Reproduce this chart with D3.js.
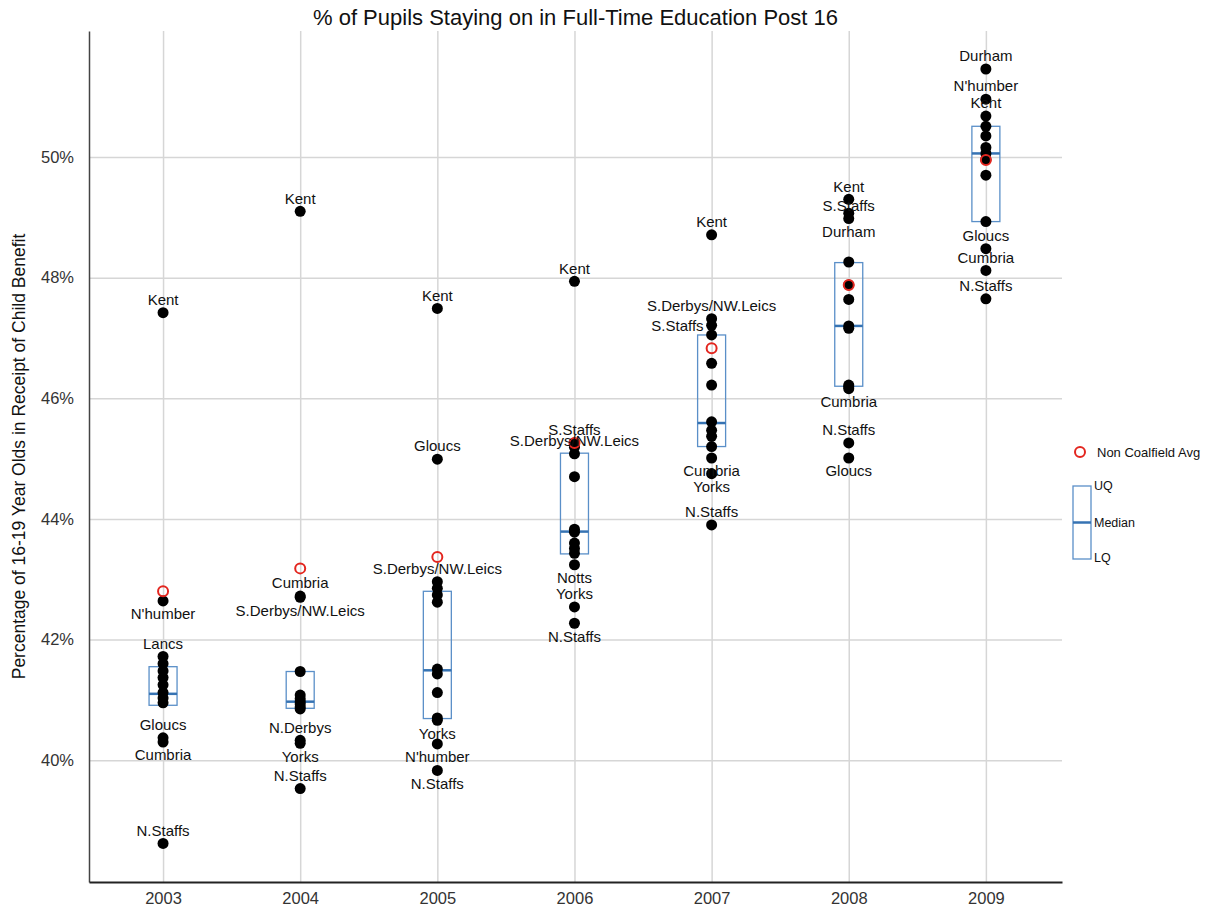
<!DOCTYPE html>
<html>
<head>
<meta charset="utf-8">
<script src="https://cdn.jsdelivr.net/npm/d3@7/dist/d3.min.js"></script>
<style>
  body { margin: 0; background: #fff; }
  text { font-family: "Liberation Sans", Arial, sans-serif; }
</style>
</head>
<body>
<div id="chart"></div>
<script>
// years on the x axis
const years = [2003, 2004, 2005, 2006, 2007, 2008, 2009];

// coalfield district values, one list per year
const districtValues = [
    [47.42, 42.64, 41.72, 41.60, 41.48, 41.37, 41.25, 41.12, 41.03, 40.95, 40.37, 40.30, 38.62],
    [49.10, 42.72, 42.70, 41.47, 41.08, 41.02, 40.97, 40.93, 40.88, 40.85, 40.33, 40.28, 39.53],
    [47.49, 44.99, 42.96, 42.85, 42.74, 42.62, 41.51, 41.43, 41.12, 40.70, 40.66, 40.27, 39.83],
    [47.94, 45.26, 45.19, 45.08, 44.70, 43.83, 43.78, 43.60, 43.51, 43.43, 43.24, 42.54, 42.27],
    [48.71, 47.32, 47.21, 47.05, 46.58, 46.22, 45.61, 45.47, 45.37, 45.20, 45.01, 44.75, 43.90],
    [49.30, 49.07, 48.98, 48.26, 47.88, 47.64, 47.20, 47.16, 46.22, 46.19, 46.16, 45.26, 45.01],
    [51.46, 50.96, 50.68, 50.51, 50.35, 50.16, 50.06, 49.96, 49.70, 48.93, 48.48, 48.12, 47.65]
];

// non coalfield average
const nonCoalfieldAvg = [42.80, 43.18, 43.37, 45.26, 46.83, 47.88, 49.95];

// box figures
const lowerQuartile = [40.91, 40.86, 40.69, 43.42, 45.20, 46.20, 48.93];
const medianValue   = [41.10, 40.97, 41.49, 43.79, 45.59, 47.20, 50.06];
const upperQuartile = [41.55, 41.47, 42.80, 45.09, 47.05, 48.25, 50.51];

const yTicks = [40, 42, 44, 46, 48, 50];

// named points
const pointLabels = [
    { year: 2003, value: 47.42, name: "Kent", side: "above" },
    { year: 2003, value: 42.64, name: "N'humber", side: "below" },
    { year: 2003, value: 41.72, name: "Lancs", side: "above" },
    { year: 2003, value: 40.37, name: "Gloucs", side: "above" },
    { year: 2003, value: 40.30, name: "Cumbria", side: "below" },
    { year: 2003, value: 38.62, name: "N.Staffs", side: "above" },
    { year: 2004, value: 49.10, name: "Kent", side: "above" },
    { year: 2004, value: 42.72, name: "Cumbria", side: "above" },
    { year: 2004, value: 42.70, name: "S.Derbys/NW.Leics", side: "below" },
    { year: 2004, value: 40.33, name: "N.Derbys", side: "above" },
    { year: 2004, value: 40.28, name: "Yorks", side: "below" },
    { year: 2004, value: 39.53, name: "N.Staffs", side: "above" },
    { year: 2005, value: 47.49, name: "Kent", side: "above" },
    { year: 2005, value: 44.99, name: "Gloucs", side: "above" },
    { year: 2005, value: 42.96, name: "S.Derbys/NW.Leics", side: "above" },
    { year: 2005, value: 40.66, name: "Yorks", side: "below" },
    { year: 2005, value: 40.27, name: "N'humber", side: "below" },
    { year: 2005, value: 39.83, name: "N.Staffs", side: "below" },
    { year: 2006, value: 47.94, name: "Kent", side: "above" },
    { year: 2006, value: 45.26, name: "S.Staffs", side: "above" },
    { year: 2006, value: 45.08, name: "S.Derbys/NW.Leics", side: "above" },
    { year: 2006, value: 43.24, name: "Notts", side: "below" },
    { year: 2006, value: 42.54, name: "Yorks", side: "above" },
    { year: 2006, value: 42.27, name: "N.Staffs", side: "below" },
    { year: 2007, value: 48.71, name: "Kent", side: "above" },
    { year: 2007, value: 47.32, name: "S.Derbys/NW.Leics", side: "above" },
    { year: 2007, value: 47.21, name: "S.Staffs", side: "left" },
    { year: 2007, value: 45.01, name: "Cumbria", side: "below" },
    { year: 2007, value: 44.75, name: "Yorks", side: "below" },
    { year: 2007, value: 43.90, name: "N.Staffs", side: "above" },
    { year: 2008, value: 49.30, name: "Kent", side: "above" },
    { year: 2008, value: 48.98, name: "S.Staffs", side: "above" },
    { year: 2008, value: 48.98, name: "Durham", side: "below" },
    { year: 2008, value: 46.16, name: "Cumbria", side: "below" },
    { year: 2008, value: 45.26, name: "N.Staffs", side: "above" },
    { year: 2008, value: 45.01, name: "Gloucs", side: "below" },
    { year: 2009, value: 51.46, name: "Durham", side: "above" },
    { year: 2009, value: 50.96, name: "N'humber", side: "above" },
    { year: 2009, value: 50.68, name: "Kent", side: "above" },
    { year: 2009, value: 48.48, name: "Gloucs", side: "above" },
    { year: 2009, value: 48.12, name: "Cumbria", side: "above" },
    { year: 2009, value: 47.65, name: "N.Staffs", side: "above" }
];

// layout
const W = 1229, H = 913;
const plot = { left: 89, right: 1062, top: 31, bottom: 882 };
const boxColor = "#5a8fc8";
const medianColor = "#3673b3";
const red = "#e3261f";

const svg = d3.select("#chart").append("svg")
    .attr("width", W)
    .attr("height", H);

const x = d3.scaleLinear()
    .domain([2002.46, 2009.555])
    .range([plot.left, plot.right]);

const y = d3.scaleLinear()
    .domain([37.98, 52.09])
    .range([plot.bottom, plot.top]);

// grid
svg.append("g")
    .attr("transform", `translate(${plot.left},0)`)
    .call(d3.axisLeft(y).tickValues(yTicks).tickSize(-(plot.right - plot.left)).tickFormat(""))
    .call(g => g.select(".domain").remove())
    .selectAll("line").attr("stroke", "#d6d6d6").attr("stroke-width", 1.5);

svg.append("g")
    .attr("transform", `translate(0,${plot.bottom})`)
    .call(d3.axisBottom(x).tickValues(years).tickSize(-(plot.bottom - plot.top)).tickFormat(""))
    .call(g => g.select(".domain").remove())
    .selectAll("line").attr("stroke", "#d6d6d6").attr("stroke-width", 1.5);

// axes
const yAxis = svg.append("g")
    .attr("transform", `translate(${plot.left},0)`)
    .call(d3.axisLeft(y).tickValues(yTicks).tickSize(0).tickPadding(15).tickFormat(d => d + "%"));
yAxis.select(".domain").attr("stroke", "#444").attr("stroke-width", 1.5);
yAxis.selectAll("text").attr("font-size", 16.5).attr("fill", "#333");

const xAxis = svg.append("g")
    .attr("transform", `translate(0,${plot.bottom})`)
    .call(d3.axisBottom(x).tickValues(years).tickSize(0).tickPadding(10).tickFormat(d3.format("d")));
xAxis.select(".domain").attr("stroke", "#222").attr("stroke-width", 2);
xAxis.selectAll("text").attr("font-size", 16.5).attr("fill", "#333");

// boxes
const boxHalf = 14;
const boxes = years.map((yr, i) => ({ year: yr, lq: lowerQuartile[i], med: medianValue[i], uq: upperQuartile[i] }));

svg.selectAll("rect.box")
    .data(boxes)
    .enter()
    .append("rect")
    .attr("class", "box")
    .attr("x", d => x(d.year) - boxHalf)
    .attr("y", d => y(d.uq))
    .attr("width", boxHalf * 2)
    .attr("height", d => y(d.lq) - y(d.uq))
    .attr("fill", "none")
    .attr("stroke", boxColor)
    .attr("stroke-width", 1.3);

svg.selectAll("line.median")
    .data(boxes)
    .enter()
    .append("line")
    .attr("class", "median")
    .attr("x1", d => x(d.year) - boxHalf)
    .attr("x2", d => x(d.year) + boxHalf)
    .attr("y1", d => y(d.med))
    .attr("y2", d => y(d.med))
    .attr("stroke", medianColor)
    .attr("stroke-width", 2.5);

// district points
const points = [];
years.forEach((yr, i) => districtValues[i].forEach(v => points.push({ year: yr, value: v })));

svg.selectAll("circle.district")
    .data(points)
    .enter()
    .append("circle")
    .attr("class", "district")
    .attr("cx", d => x(d.year))
    .attr("cy", d => y(d.value))
    .attr("r", 5.5)
    .attr("fill", "#000");

// non coalfield average
svg.selectAll("circle.avg")
    .data(years.map((yr, i) => ({ year: yr, value: nonCoalfieldAvg[i] })))
    .enter()
    .append("circle")
    .attr("class", "avg")
    .attr("cx", d => x(d.year))
    .attr("cy", d => y(d.value))
    .attr("r", 5)
    .attr("fill", "none")
    .attr("stroke", red)
    .attr("stroke-width", 2);

// labels
svg.selectAll("text.pointLabel")
    .data(pointLabels)
    .enter()
    .append("text")
    .attr("class", "pointLabel")
    .attr("x", d => d.side === "left" ? x(d.year) - 8 : x(d.year))
    .attr("y", d => y(d.value) + (d.side === "above" ? -13 : d.side === "below" ? 13 : 0))
    .attr("dy", "0.35em")
    .attr("text-anchor", d => d.side === "left" ? "end" : "middle")
    .attr("font-size", 15)
    .attr("fill", "#111")
    .text(d => d.name);

// title
svg.append("text")
    .attr("x", (plot.left + plot.right) / 2)
    .attr("y", 17)
    .attr("dy", "0.35em")
    .attr("text-anchor", "middle")
    .attr("font-size", 22)
    .attr("fill", "#111")
    .text("% of Pupils Staying on in Full-Time Education Post 16");

svg.append("text")
    .attr("transform", `translate(19,${(plot.top + plot.bottom) / 2}) rotate(-90)`)
    .attr("dy", "0.35em")
    .attr("text-anchor", "middle")
    .attr("font-size", 17.5)
    .attr("fill", "#111")
    .text("Percentage of 16-19 Year Olds in Receipt of Child Benefit");

// legend
const legend = svg.append("g");

legend.append("circle")
    .attr("cx", 1080).attr("cy", 452).attr("r", 5)
    .attr("fill", "none").attr("stroke", red).attr("stroke-width", 2);
legend.append("text")
    .attr("x", 1097).attr("y", 452).attr("dy", "0.35em")
    .attr("font-size", 13).attr("fill", "#111")
    .text("Non Coalfield Avg");

legend.append("rect")
    .attr("x", 1073).attr("y", 486).attr("width", 18).attr("height", 73)
    .attr("fill", "none").attr("stroke", boxColor).attr("stroke-width", 1.3);
legend.append("line")
    .attr("x1", 1073).attr("x2", 1091).attr("y1", 522.5).attr("y2", 522.5)
    .attr("stroke", medianColor).attr("stroke-width", 2.5);

[["UQ", 486], ["Median", 522.5], ["LQ", 558]].forEach(([t, ty]) => {
    legend.append("text")
        .attr("x", 1094).attr("y", ty).attr("dy", "0.35em")
        .attr("font-size", 12.5).attr("fill", "#111")
        .text(t);
});
</script>
</body>
</html>
